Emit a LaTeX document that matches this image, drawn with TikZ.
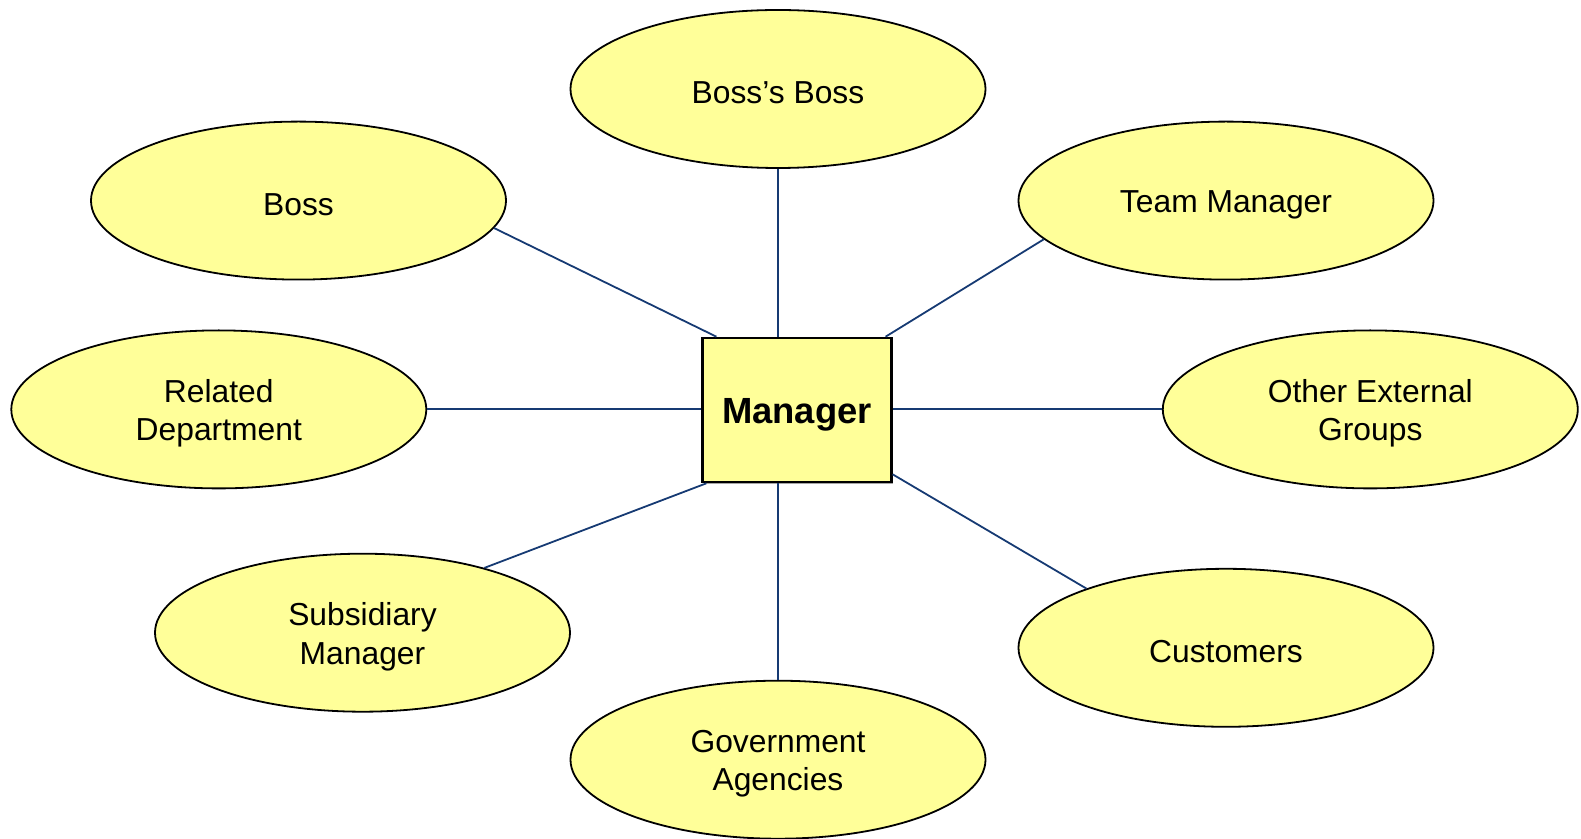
\documentclass[tikz,border=0pt]{standalone}
\usepackage{fontspec}
\setmainfont{Liberation Sans}
\usepackage{tikz}
\usetikzlibrary{shapes.geometric,shadows}
\definecolor{paleyellow}{RGB}{255,255,153}
\definecolor{linkblue}{RGB}{22,58,115}

\begin{document}
\begin{tikzpicture}[x=0.5pt, y=-0.5pt,
  party/.style={ellipse, draw=black, line width=0.9pt, fill=paleyellow,
    minimum width=207.5pt, minimum height=79pt, inner sep=0pt},
  partytext/.style={yshift=-2pt, inner sep=0pt, align=center,
    font=\fontsize{15.9}{19.2}\selectfont},
  mgrbox/.style={rectangle, draw=black, line width=1.3pt, fill=paleyellow,
    minimum width=94.3pt, minimum height=72pt,
    drop shadow={shadow xshift=1pt, shadow yshift=-1pt, fill=black!35, opacity=1}},
  mgrtext/.style={yshift=-2.5pt, inner sep=0pt,
    font=\fontsize{18.2}{22}\selectfont\bfseries},
  link/.style={linkblue, line width=0.9pt}]
\useasboundingbox (0,0) rectangle (1581,839);
%
\node[party, label={[partytext]center:Boss’s Boss}] (bossboss) at (778,89) {};
\node[party, label={[partytext]center:Boss}] (boss) at (298.5,200.6) {};
\node[party, label={[partytext]center:Team Manager}] (team) at (1226,200.6) {};
\node[party, label={[partytext]center:Related\\Department}] (related) at (218.8,409.4) {};
\node[party, label={[partytext]center:Other External\\Groups}] (other) at (1370.3,409.4) {};
\node[party, label={[partytext]center:Subsidiary\\Manager}] (subsid) at (362.5,632.7) {};
\node[party, label={[partytext]center:Customers}] (cust) at (1226,647.8) {};
\node[party, label={[partytext]center:Government\\Agencies}] (gov) at (778,759.7) {};
%
\node[mgrbox, label={[mgrtext]center:Manager}] (mgr) at (797,410) {};
%
\draw[link] (bossboss.south) -- (mgr.north -| bossboss.south);
\draw[link] (boss.-8) -- ([xshift=7.5pt]mgr.north west);
\draw[link] (team.192) -- ([xshift=-3.5pt]mgr.north east);
\draw[link] (related.east) -- (related.east -| mgr.west);
\draw[link] (mgr.east |- other.west) -- (other.west);
\draw[link] (subsid.28) -- ([xshift=2.5pt]mgr.south west);
\draw[link] ([yshift=4.5pt]mgr.south east) -- (cust.157);
\draw[link] (mgr.south -| gov.north) -- (gov.north);
\end{tikzpicture}
\end{document}
